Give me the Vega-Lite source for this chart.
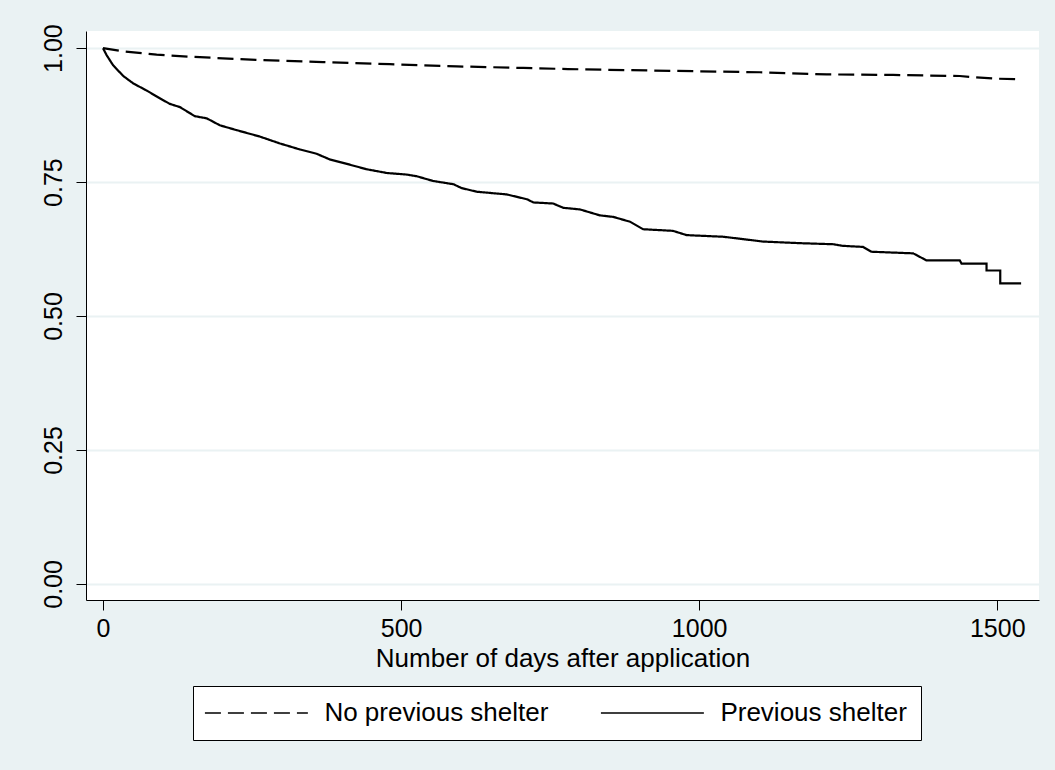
{
  "$schema": "https://vega.github.io/schema/vega-lite/v6.json",
  "autosize": {"type": "none"},
  "padding": {"left": 86, "top": 31, "right": 16, "bottom": 170},
  "width": 953,
  "height": 569,
  "background": "#EAF2F3",
  "config": {
    "view": {"fill": "white", "stroke": null},
    "font": "Liberation Sans",
    "axis": {"labelFont": "Liberation Sans", "titleFont": "Liberation Sans", "labelColor": "black", "titleColor": "black", "domainColor": "black", "tickColor": "black", "domainWidth": 1, "tickWidth": 1, "tickSize": 10},
    "legend": {"labelFont": "Liberation Sans"}
  },
  "data": {
    "values": [
      {"group": "No previous shelter", "i": 1, "day": 0, "s": 1.0},
      {"group": "No previous shelter", "i": 2, "day": 34, "s": 0.994},
      {"group": "No previous shelter", "i": 3, "day": 90, "s": 0.988},
      {"group": "No previous shelter", "i": 4, "day": 146, "s": 0.984},
      {"group": "No previous shelter", "i": 5, "day": 258, "s": 0.978},
      {"group": "No previous shelter", "i": 6, "day": 369, "s": 0.974},
      {"group": "No previous shelter", "i": 7, "day": 481, "s": 0.970},
      {"group": "No previous shelter", "i": 8, "day": 593, "s": 0.966},
      {"group": "No previous shelter", "i": 9, "day": 705, "s": 0.963},
      {"group": "No previous shelter", "i": 10, "day": 780, "s": 0.961},
      {"group": "No previous shelter", "i": 11, "day": 878, "s": 0.959},
      {"group": "No previous shelter", "i": 12, "day": 990, "s": 0.957},
      {"group": "No previous shelter", "i": 13, "day": 1102, "s": 0.955},
      {"group": "No previous shelter", "i": 14, "day": 1214, "s": 0.951},
      {"group": "No previous shelter", "i": 15, "day": 1325, "s": 0.950},
      {"group": "No previous shelter", "i": 16, "day": 1437, "s": 0.948},
      {"group": "No previous shelter", "i": 17, "day": 1459, "s": 0.946},
      {"group": "No previous shelter", "i": 18, "day": 1499, "s": 0.943},
      {"group": "No previous shelter", "i": 19, "day": 1538, "s": 0.942},
      {"group": "Previous shelter", "i": 1, "day": 0, "s": 1.0},
      {"group": "Previous shelter", "i": 2, "day": 6, "s": 0.987},
      {"group": "Previous shelter", "i": 3, "day": 17, "s": 0.968},
      {"group": "Previous shelter", "i": 4, "day": 34, "s": 0.948},
      {"group": "Previous shelter", "i": 5, "day": 51, "s": 0.934},
      {"group": "Previous shelter", "i": 6, "day": 73, "s": 0.921},
      {"group": "Previous shelter", "i": 7, "day": 96, "s": 0.906},
      {"group": "Previous shelter", "i": 8, "day": 112, "s": 0.896},
      {"group": "Previous shelter", "i": 9, "day": 129, "s": 0.890},
      {"group": "Previous shelter", "i": 10, "day": 154, "s": 0.873},
      {"group": "Previous shelter", "i": 11, "day": 174, "s": 0.869},
      {"group": "Previous shelter", "i": 12, "day": 196, "s": 0.856},
      {"group": "Previous shelter", "i": 13, "day": 224, "s": 0.847},
      {"group": "Previous shelter", "i": 14, "day": 263, "s": 0.835},
      {"group": "Previous shelter", "i": 15, "day": 297, "s": 0.822},
      {"group": "Previous shelter", "i": 16, "day": 330, "s": 0.811},
      {"group": "Previous shelter", "i": 17, "day": 358, "s": 0.803},
      {"group": "Previous shelter", "i": 18, "day": 381, "s": 0.792},
      {"group": "Previous shelter", "i": 19, "day": 409, "s": 0.784},
      {"group": "Previous shelter", "i": 20, "day": 442, "s": 0.774},
      {"group": "Previous shelter", "i": 21, "day": 476, "s": 0.767},
      {"group": "Previous shelter", "i": 22, "day": 510, "s": 0.764},
      {"group": "Previous shelter", "i": 23, "day": 526, "s": 0.761},
      {"group": "Previous shelter", "i": 24, "day": 554, "s": 0.752},
      {"group": "Previous shelter", "i": 25, "day": 588, "s": 0.746},
      {"group": "Previous shelter", "i": 26, "day": 601, "s": 0.739},
      {"group": "Previous shelter", "i": 27, "day": 627, "s": 0.732},
      {"group": "Previous shelter", "i": 28, "day": 677, "s": 0.727},
      {"group": "Previous shelter", "i": 29, "day": 711, "s": 0.718},
      {"group": "Previous shelter", "i": 30, "day": 722, "s": 0.712},
      {"group": "Previous shelter", "i": 31, "day": 755, "s": 0.710},
      {"group": "Previous shelter", "i": 32, "day": 772, "s": 0.702},
      {"group": "Previous shelter", "i": 33, "day": 800, "s": 0.699},
      {"group": "Previous shelter", "i": 34, "day": 833, "s": 0.688},
      {"group": "Previous shelter", "i": 35, "day": 856, "s": 0.685},
      {"group": "Previous shelter", "i": 36, "day": 884, "s": 0.676},
      {"group": "Previous shelter", "i": 37, "day": 906, "s": 0.662},
      {"group": "Previous shelter", "i": 38, "day": 956, "s": 0.659},
      {"group": "Previous shelter", "i": 39, "day": 979, "s": 0.651},
      {"group": "Previous shelter", "i": 40, "day": 1040, "s": 0.648},
      {"group": "Previous shelter", "i": 41, "day": 1063, "s": 0.645},
      {"group": "Previous shelter", "i": 42, "day": 1107, "s": 0.639},
      {"group": "Previous shelter", "i": 43, "day": 1169, "s": 0.636},
      {"group": "Previous shelter", "i": 44, "day": 1225, "s": 0.634},
      {"group": "Previous shelter", "i": 45, "day": 1241, "s": 0.631},
      {"group": "Previous shelter", "i": 46, "day": 1275, "s": 0.629},
      {"group": "Previous shelter", "i": 47, "day": 1289, "s": 0.620},
      {"group": "Previous shelter", "i": 48, "day": 1359, "s": 0.617},
      {"group": "Previous shelter", "i": 49, "day": 1381, "s": 0.604},
      {"group": "Previous shelter", "i": 50, "day": 1437, "s": 0.604},
      {"group": "Previous shelter", "i": 51, "day": 1440, "s": 0.598},
      {"group": "Previous shelter", "i": 52, "day": 1482, "s": 0.598},
      {"group": "Previous shelter", "i": 53, "day": 1482, "s": 0.585},
      {"group": "Previous shelter", "i": 54, "day": 1505, "s": 0.585},
      {"group": "Previous shelter", "i": 55, "day": 1505, "s": 0.561},
      {"group": "Previous shelter", "i": 56, "day": 1540, "s": 0.561}
    ]
  },
  "mark": {"type": "line", "color": "black", "strokeWidth": 2.2},
  "encoding": {
    "x": {
      "field": "day", "type": "quantitative",
      "scale": {"domain": [-28.5, 1570], "nice": false, "zero": false},
      "axis": {"values": [0, 500, 1000, 1500], "format": "d", "title": "Number of days after application", "labelFontSize": 25, "titleFontSize": 26, "titleFontWeight": "normal", "labelPadding": 6, "titlePadding": 4, "grid": false}
    },
    "y": {
      "field": "s", "type": "quantitative",
      "scale": {"domain": [-0.03, 1.032], "nice": false, "zero": false},
      "axis": {"values": [0, 0.25, 0.5, 0.75, 1], "format": ".2f", "title": null, "labelFontSize": 25, "labelAngle": 270, "labelAlign": "center", "labelBaseline": "bottom", "labelPadding": 10, "grid": true, "gridColor": "#EAF2F3", "gridWidth": 2}
    },
    "order": {"field": "i", "type": "quantitative"},
    "strokeDash": {
      "field": "group", "type": "nominal",
      "scale": {"domain": ["No previous shelter", "Previous shelter"], "range": [[16, 7], [1, 0]]},
      "legend": {
        "title": null, "orient": "none", "legendX": 107, "legendY": 655,
        "direction": "horizontal", "columns": 2,
        "strokeColor": "black", "fillColor": "white", "padding": 14,
        "symbolType": "M-10,0H10", "symbolSize": 106, "symbolOffset": 36.4, "symbolStrokeWidth": 1.5, "symbolStrokeColor": "black",
        "labelFontSize": 26, "labelColor": "black", "labelOffset": 55, "columnPadding": 48, "labelLimit": 400
      }
    }
  }
}
